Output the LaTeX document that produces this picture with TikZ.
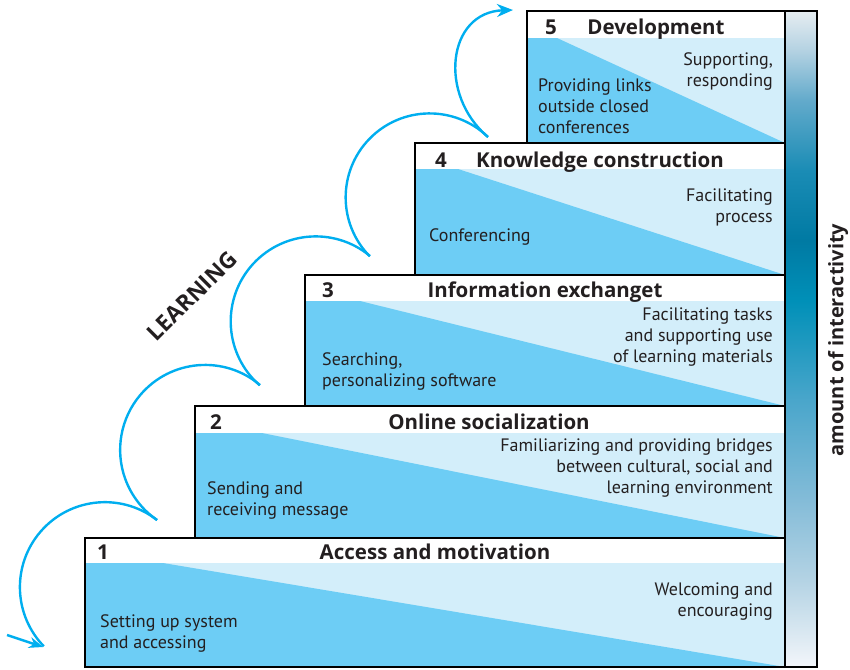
\documentclass[tikz,border=0pt]{standalone}
\usepackage{fontspec}
\setmainfont{PT Sans}
\newfontfamily\headfont{Open Sans}
\usetikzlibrary{arrows.meta,calc}
\definecolor{dk}{HTML}{6DCDF5}
\definecolor{lt}{HTML}{D3EEFA}
\definecolor{arcc}{HTML}{00AEEF}
\definecolor{txt}{HTML}{231F20}
\definecolor{ba}{HTML}{E6EDF1}
\definecolor{bb}{HTML}{B4D2E2}
\definecolor{bc}{HTML}{62AACB}
\definecolor{bd}{HTML}{1A8CB5}
\definecolor{be}{HTML}{007AA3}
\definecolor{bf}{HTML}{0090B8}
\definecolor{bg}{HTML}{4AA6CB}
\definecolor{bh}{HTML}{84BCD8}
\definecolor{bi}{HTML}{B4D3E4}
\definecolor{bj}{HTML}{DFEBF3}
\definecolor{bk}{HTML}{F3F6FB}
\pgfdeclareverticalshading{interact}{100bp}{color(0bp)=(bk); color(25bp)=(bk); color(27bp)=(bj); color(31.6bp)=(bi); color(37.7bp)=(bh); color(45.3bp)=(bg); color(52.9bp)=(bf); color(57.5bp)=(be); color(62.8bp)=(bd); color(68.15bp)=(bc); color(72bp)=(bb); color(75bp)=(ba); color(100bp)=(ba)}
\begin{document}
\begin{tikzpicture}[x=1pt,y=-1pt,
  box/.style={draw=black, line width=2.8pt},
  body/.style={font=\fontsize{18}{21}\selectfont, text=txt, inner sep=0pt},
  lbody/.style={body, align=left, anchor=west},
  rbody/.style={body, align=right, anchor=east},
  title/.style={font=\headfont\fontsize{20.5}{24}\selectfont\bfseries, text=txt, inner sep=0pt, anchor=base},
  loop/.style={draw=arcc, line width=2.4pt}]
\useasboundingbox (0,0) rectangle (850,669);
% step boxes: left/top/bottom/title-band bottom/diagonal start
\foreach \l/\t/\b/\h/\d in {85/538/667/563/163, 195/406/538/433/262, 305/275/406/301/360, 415/143/275/169/458, 527/11/143/38/557}{
  \fill[lt] (\l,\h) rectangle (785,\b);
  \fill[dk] (\l,\h) -- (\d,\h) -- (785,\b) -- (\l,\b) -- cycle;
  \fill[white] (\l,\t) rectangle (785,\h);
}
\foreach \l/\t/\b in {85/538/667, 195/406/538, 305/275/406, 415/143/275, 527/11/143}{
  \draw[box] (\l,\t) rectangle (785,\b);
}
% interactivity bar
\shade[shading=interact] (785,11) rectangle (817,667);
\draw[box] (785,11) rectangle (817,667);
\node[font=\headfont\fontsize{20}{24}\selectfont\bfseries, text=txt, rotate=90, inner sep=0pt] (axis) at (838,340) {amount of interactivity};
% titles
\node[title] (n1) at (103,559) {1};
\node[title] (t1) at (435,559) {Access and motivation};
\node[title] (n2) at (216,429) {2};
\node[title] (t2) at (489,429) {Online socialization};
\node[title] (n3) at (328,297) {3};
\node[title] (t3) at (545,297) {Information exchanget};
\node[title] (n4) at (441,167) {4};
\node[title] (t4) at (600,167) {Knowledge construction};
\node[title] (n5) at (551,35) {5};
\node[title] (t5) at (656,35) {Development};
% body texts
\node[lbody] (l1) at (100,633) {Setting up system\\and accessing};
\node[rbody] (r1) at (773,602) {Welcoming and\\encouraging};
\node[lbody] (l2) at (207,500) {Sending and\\receiving message};
\node[rbody] (r2) at (773,468) {Familiarizing and providing bridges\\between cultural, social and\\learning environment};
\node[lbody] (l3) at (322,371) {Searching,\\personalizing software};
\node[rbody] (r3) at (773,337) {Facilitating tasks\\and supporting use\\of learning materials};
\node[lbody] (l4) at (429,237) {Conferencing};
\node[rbody] (r4) at (773,207) {Facilitating\\process};
\node[lbody] (l5) at (538,106) {Providing links\\outside closed\\conferences};
\node[rbody] (r5) at (773,71) {Supporting,\\responding};
% learning label
\node[font=\headfont\fontsize{22.5}{26}\selectfont\bfseries, text=txt, rotate=45, inner sep=0pt] (learn) at (192,296) {LEARNING};
% loops
\coordinate (Q) at (7,635);
\coordinate (P0) at (43,647);
\coordinate (P1) at (157,520);
\coordinate (P2) at (260,385);
\coordinate (P3) at (370,256);
\coordinate (P4) at (488,137);
\coordinate (P5) at (513,10);
\draw[loop] (P1) arc[start angle=-52.2, end angle=-224.1, radius=85];
\draw[loop] (P2) arc[start angle=-49.8, end angle=-235.6, radius=85];
\draw[loop] (P3) arc[start angle=-50.3, end angle=-228.8, radius=85];
\draw[loop] (P4) arc[start angle=-46, end angle=-224.5, radius=84];
\draw[loop, -{Stealth[length=16pt, width=13pt]}] (P4) .. controls (438,95) and (447,12) .. (P5);
\draw[loop, -{Stealth[length=14pt, width=11pt]}] (Q) -- (P0);
\end{tikzpicture}
\end{document}
